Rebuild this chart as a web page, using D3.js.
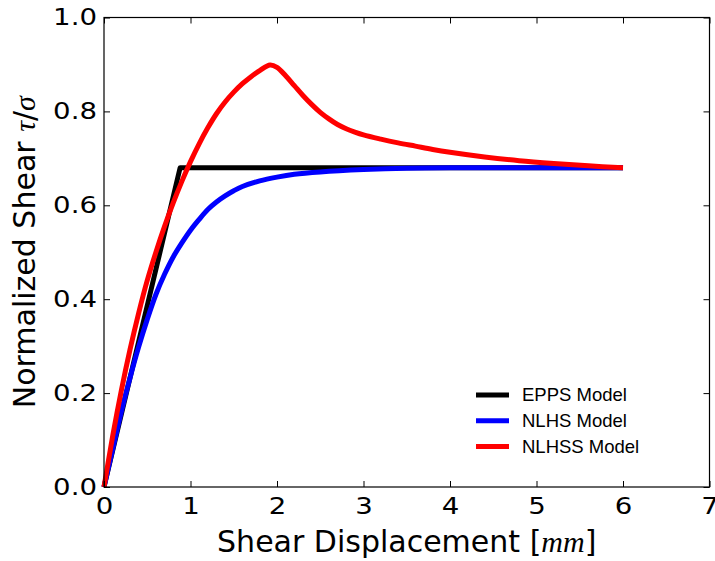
<!DOCTYPE html>
<html lang="en">

<head>
    <meta charset="UTF-8">
    <script src="https://cdnjs.cloudflare.com/ajax/libs/d3/7.8.5/d3.min.js"></script>
    <title>Normalized Shear</title>
    <style>
        body { margin: 0; background: #fff; }
        svg { display: block; }
        .tick text { font-family: 'DejaVu Sans', sans-serif; font-size: 23px; fill: #000; }
        .tick line { stroke: #000; stroke-width: 1; }
        .label { font-family: 'DejaVu Sans', sans-serif; font-size: 30px; fill: #000; }
        .math { font-family: 'Liberation Serif', serif; font-style: italic; }
        .legend text { font-family: 'Liberation Sans', Arial, sans-serif; font-size: 18.5px; fill: #000; }
    </style>
</head>

<body>
<script>
    // values
    const seriesNames = ['EPPS Model', 'NLHS Model', 'NLHSS Model']
    const seriesColors = ['#000000', '#0000ff', '#ff0000']

    const eppsX = [0, 0.88, 6]
    const eppsY = [0, 0.68, 0.68]

    const nlhsX = [0, 0.1, 0.2, 0.3, 0.4, 0.5, 0.6, 0.7, 0.8, 0.9, 1.0, 1.1, 1.2, 1.3, 1.4, 1.5, 1.6, 1.8, 2.0, 2.2, 2.5, 3.0, 3.5, 4.0, 5.0, 6.0]
    const nlhsY = [0, 0.08, 0.16, 0.232, 0.298, 0.357, 0.41, 0.453, 0.49, 0.52, 0.547, 0.57, 0.591, 0.607, 0.62, 0.631, 0.64, 0.652, 0.66, 0.666, 0.671, 0.676, 0.679, 0.68, 0.68, 0.68]

    const nlhssX = [0, 0.1, 0.2, 0.3, 0.4, 0.5, 0.6, 0.7, 0.8, 0.9, 1.0, 1.1, 1.2, 1.3, 1.4, 1.5, 1.6, 1.7, 1.8, 1.92, 2.0, 2.1, 2.2, 2.3, 2.4, 2.5, 2.6, 2.7, 2.8, 2.9, 3.0, 3.2, 3.4, 3.6, 3.8, 4.0, 4.4, 4.8, 5.2, 5.6, 6.0]
    const nlhssY = [0, 0.108, 0.205, 0.292, 0.37, 0.44, 0.5, 0.555, 0.605, 0.651, 0.693, 0.731, 0.765, 0.795, 0.82, 0.841, 0.859, 0.874, 0.887, 0.899, 0.894, 0.876, 0.855, 0.834, 0.815, 0.798, 0.784, 0.772, 0.763, 0.756, 0.75, 0.741, 0.733, 0.726, 0.719, 0.713, 0.703, 0.695, 0.689, 0.684, 0.68]

    const xTicks = [0, 1, 2, 3, 4, 5, 6, 7]
    const yTicks = [0, 0.2, 0.4, 0.6, 0.8, 1.0]

    const width = 715
    const height = 561
    const margin = { top: 17.5, right: 5.5, bottom: 74, left: 104 }
    const w = width - margin.left - margin.right
    const h = height - margin.top - margin.bottom
    const stretch = 1.2 // tick labels look wider than tall in the picture

    const xScale = d3.scaleLinear().domain([0, 7]).range([0, w])
    const yScale = d3.scaleLinear().domain([0, 1]).range([h, 0])

    const series = [[eppsX, eppsY], [nlhsX, nlhsY], [nlhssX, nlhssY]].map((s, i) => ({
        name: seriesNames[i],
        color: seriesColors[i],
        points: s[0].map((x, j) => [x, s[1][j]])
    }))

    //SVG
    const svg = d3.select('body')
        .append('svg')
        .attr('width', width)
        .attr('height', height)
    const g = svg.append('g')
        .attr('transform', `translate(${margin.left},${margin.top})`)

    //Lines
    const line = d3.line()
        .x(d => xScale(d[0]))
        .y(d => yScale(d[1]))
    g.selectAll('path.series')
        .data(series)
        .enter()
        .append('path')
        .attr('class', 'series')
        .attr('d', (d, i) => line.curve(i === 0 ? d3.curveLinear : d3.curveCatmullRom.alpha(0.5))(d.points))
        .attr('fill', 'none')
        .attr('stroke', d => d.color)
        .attr('stroke-width', 5)
        .attr('stroke-linejoin', 'round')

    //Axis X
    g.append('g')
        .attr('transform', `translate(0,${h})`)
        .call(d3.axisBottom(xScale).tickValues(xTicks).tickSize(-6).tickPadding(11).tickFormat(d3.format('d')))
    g.append('g')
        .call(d3.axisTop(xScale).tickValues(xTicks).tickSize(-6).tickFormat(''))
    //Axis Y
    g.append('g')
        .call(d3.axisLeft(yScale).tickValues(yTicks).tickSize(-6).tickPadding(7 / stretch).tickFormat(d3.format('.1f')))
    g.append('g')
        .attr('transform', `translate(${w},0)`)
        .call(d3.axisRight(yScale).tickValues(yTicks).tickSize(-6).tickFormat(''))
    g.selectAll('.domain').remove()
    g.selectAll('.tick text').attr('transform', `scale(${stretch},1)`)

    //Frame
    g.append('rect')
        .attr('width', w)
        .attr('height', h)
        .attr('fill', 'none')
        .attr('stroke', '#000')
        .attr('stroke-width', 1.2)

    //Labels
    const xl = svg.append('text')
        .attr('class', 'label')
        .attr('x', margin.left + w / 2)
        .attr('y', 552)
        .attr('text-anchor', 'middle')
    xl.append('tspan').text('Shear Displacement ')
    xl.append('tspan').text('[')
    xl.append('tspan').attr('class', 'math').text('mm')
    xl.append('tspan').text(']')

    const yl = svg.append('text')
        .attr('class', 'label')
        .attr('transform', `translate(35,${margin.top + h / 2}) rotate(-90)`)
        .attr('text-anchor', 'middle')
    yl.append('tspan').text('Normalized Shear ')
    yl.append('tspan').attr('class', 'math').text('τ')
    yl.append('tspan').text('/')
    yl.append('tspan').attr('class', 'math').text('σ')

    //Legend
    const legend = svg.append('g')
        .attr('class', 'legend')
        .attr('transform', 'translate(476,395)')
    legend.selectAll('line')
        .data(series)
        .enter()
        .append('line')
        .attr('x1', 0)
        .attr('x2', 33)
        .attr('y1', (d, i) => i * 25.8)
        .attr('y2', (d, i) => i * 25.8)
        .attr('stroke', d => d.color)
        .attr('stroke-width', 5)
    legend.selectAll('text')
        .data(series)
        .enter()
        .append('text')
        .attr('x', 46)
        .attr('y', (d, i) => i * 25.8)
        .attr('dy', '0.35em')
        .text(d => d.name)
</script>
</body>

</html>
